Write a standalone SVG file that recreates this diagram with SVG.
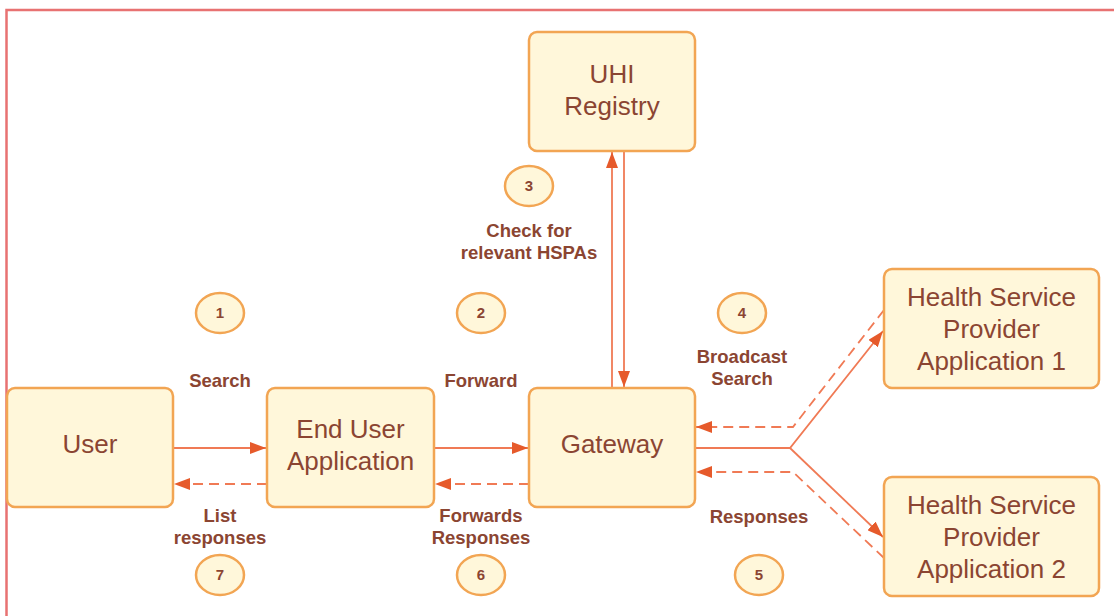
<svg xmlns="http://www.w3.org/2000/svg" width="1114" height="616" viewBox="0 0 1114 616">
<style>
.node rect{fill:#fff7da;stroke:#f2a553;stroke-width:2.5}
.node text{font-family:"Liberation Sans",Arial,sans-serif;font-size:26px;fill:#8b4532;text-anchor:middle}
.badge ellipse{fill:#fff7da;stroke:#f2a553;stroke-width:2.5}
.badge text{font-family:"Liberation Sans",Arial,sans-serif;font-size:15px;font-weight:bold;fill:#8b4532;text-anchor:middle}
.lbl{font-family:"Liberation Sans",Arial,sans-serif;font-size:18.5px;font-weight:bold;fill:#8b4532;text-anchor:middle}
.c{fill:none;stroke:#f07a55;stroke-width:1.8}
.d{stroke-dasharray:10 6}
</style>
<defs>
<marker id="ah" viewBox="0 0 16 12" refX="16" refY="6" markerWidth="16" markerHeight="12" markerUnits="userSpaceOnUse" orient="auto">
<path d="M0,0 L16,6 L0,12 Z" fill="#e65a2b"/>
</marker>
</defs>
<rect width="1114" height="616" fill="#ffffff"/>
<path d="M6.5,616 V10 H1114" fill="none" stroke="#e87272" stroke-width="2.5"/>
<g id="connectors">
<line class="c" x1="173" y1="448" x2="266" y2="448" marker-end="url(#ah)"/>
<line class="c d" x1="267" y1="484" x2="174" y2="484" marker-end="url(#ah)"/>
<line class="c" x1="434" y1="448" x2="528" y2="448" marker-end="url(#ah)"/>
<line class="c d" x1="529" y1="484" x2="435" y2="484" marker-end="url(#ah)"/>
<line class="c" x1="612" y1="388" x2="612" y2="152" marker-end="url(#ah)"/>
<line class="c" x1="624" y1="151" x2="624" y2="387" marker-end="url(#ah)"/>
<polyline class="c" points="695,448 790,448 883,331" marker-end="url(#ah)"/>
<polyline class="c" points="790,448 883,537" marker-end="url(#ah)"/>
<polyline class="c d" points="884,310 793,427 696,427" marker-end="url(#ah)"/>
<polyline class="c d" points="884,558 793,472 696,472" marker-end="url(#ah)"/>
</g>
<g id="user" class="node"><rect x="7" y="388" width="166" height="119" rx="8"/><text x="90" y="453">User</text></g>
<g id="eua" class="node"><rect x="267" y="388" width="167" height="119" rx="8"/><text x="350.5" y="438">End User</text><text x="350.5" y="470">Application</text></g>
<g id="gateway" class="node"><rect x="529" y="388" width="166" height="119" rx="8"/><text x="612" y="453">Gateway</text></g>
<g id="uhi" class="node"><rect x="529" y="32" width="166" height="119" rx="8"/><text x="612" y="83">UHI</text><text x="612" y="115">Registry</text></g>
<g id="hsp1" class="node"><rect x="884" y="269" width="215" height="119" rx="8"/><text x="991.5" y="306">Health Service</text><text x="991.5" y="338">Provider</text><text x="991.5" y="370">Application 1</text></g>
<g id="hsp2" class="node"><rect x="884" y="477" width="215" height="119" rx="8"/><text x="991.5" y="514">Health Service</text><text x="991.5" y="546">Provider</text><text x="991.5" y="578">Application 2</text></g>
<g id="b1" class="badge"><ellipse cx="220" cy="313" rx="24" ry="20"/><text x="220" y="318">1</text></g>
<g id="b2" class="badge"><ellipse cx="481" cy="313" rx="24" ry="20"/><text x="481" y="318">2</text></g>
<g id="b3" class="badge"><ellipse cx="529" cy="186" rx="24" ry="20"/><text x="529" y="191">3</text></g>
<g id="b4" class="badge"><ellipse cx="742" cy="313" rx="24" ry="20"/><text x="742" y="318">4</text></g>
<g id="b5" class="badge"><ellipse cx="759" cy="575" rx="24" ry="20"/><text x="759" y="580">5</text></g>
<g id="b6" class="badge"><ellipse cx="481" cy="575" rx="24" ry="20"/><text x="481" y="580">6</text></g>
<g id="b7" class="badge"><ellipse cx="220" cy="575" rx="24" ry="20"/><text x="220" y="580">7</text></g>
<g id="labels">
<text class="lbl" x="220" y="387">Search</text>
<text class="lbl" x="481" y="387">Forward</text>
<text class="lbl" x="529" y="237">Check for</text>
<text class="lbl" x="529" y="259">relevant HSPAs</text>
<text class="lbl" x="742" y="363">Broadcast</text>
<text class="lbl" x="742" y="385">Search</text>
<text class="lbl" x="759" y="523">Responses</text>
<text class="lbl" x="220" y="522">List</text>
<text class="lbl" x="220" y="544">responses</text>
<text class="lbl" x="481" y="522">Forwards</text>
<text class="lbl" x="481" y="544">Responses</text>
</g>
</svg>
